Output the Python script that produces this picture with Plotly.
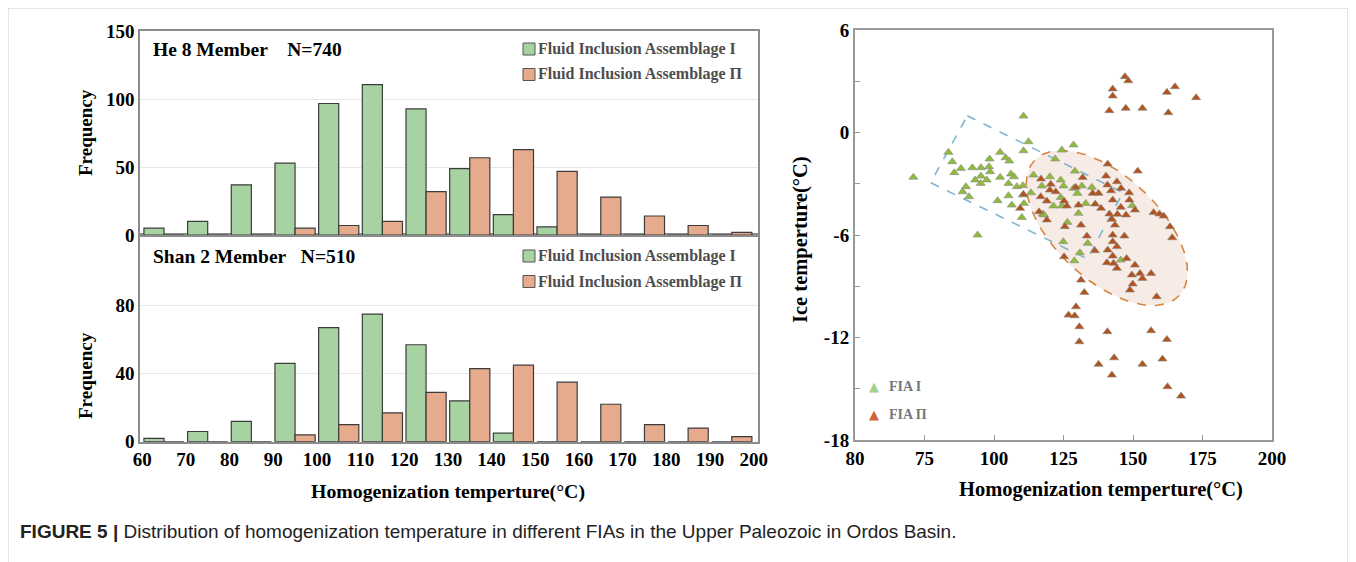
import numpy as np
import plotly.graph_objects as go

W, H = 1356, 562
OFF = 8  # page offset of the plot div

# ---------------- data ----------------
bin_centers = [65, 75, 85, 95, 105, 115, 125, 135, 145, 155, 165, 175, 185, 195]
hist_ticks = [60, 70, 80, 90, 100, 110, 120, 130, 140, 150, 160, 170, 180, 190, 200]

he8_fia1 = [5, 10, 37, 53, 97, 111, 93, 49, 15, 6, 0, 0, 0, 0]
he8_fia2 = [0, 0, 0, 5, 7, 10, 32, 57, 63, 47, 28, 14, 7, 2]
shan2_fia1 = [2, 6, 12, 46, 67, 75, 57, 24, 5, 0, 0, 0, 0, 0]
shan2_fia2 = [0, 0, 0, 4, 10, 17, 29, 43, 45, 35, 22, 10, 8, 3]

fia1_x = [71.0, 110.6, 83.6, 85.0, 88.1, 85.7, 92.2, 95.3, 98.4, 98.2, 98.6, 95.3, 93.2, 95.2,
          97.4, 89.9, 88.7, 91.0, 102.2, 104.2, 105.5, 102.2, 106.1, 107.2, 105.2, 108.2, 110.4,
          105.2, 101.3, 106.4, 110.8, 110.4, 113.3, 110.0, 112.4, 110.6, 114.2, 94.1, 117.2, 117.6,
          128.6, 124.4, 122.0, 129.1, 120.1, 124.0, 125.0, 128.6, 131.6, 130.0, 135.2, 124.0,
          121.4, 124.4, 133.0, 130.4, 118.0, 126.4, 149.7, 124.9, 133.7, 130.9, 128.9, 145.6]
fia1_y = [-2.62, 0.96, -1.16, -1.71, -2.10, -2.35, -2.06, -2.06, -1.55, -2.0, -2.3, -2.55, -2.78,
          -2.98, -2.78, -3.17, -3.47, -3.76, -1.16, -1.48, -1.67, -2.62, -2.43, -2.59, -2.98, -3.17,
          -3.11, -3.70, -3.99, -4.25, -4.15, -3.66, -3.53, -4.97, -0.54, -1.07, -2.49, -6.0, -3.13,
          -4.77, -0.73, -1.03, -1.55, -2.26, -2.59, -2.78, -3.13, -3.27, -3.13, -3.56, -3.21, -3.80,
          -4.30, -4.30, -4.15, -4.73, -4.83, -5.26, -4.28, -6.39, -6.49, -7.04, -7.51, -7.47]

fia2_x = [141.5, 147.4, 153.4, 162.7, 147.1, 148.3, 142.7, 142.7, 162.2, 165.1, 172.7,
          116.9, 110.6, 109.4, 116.8, 116.2,
          120.4, 120.1, 122.2, 129.4, 131.9, 119.0, 125.2, 126.2, 135.5, 137.6, 140.9, 140.3,
          140.8, 142.1, 144.2, 145.7, 151.7, 148.6, 142.7, 148.7, 150.7, 145.6, 136.4, 138.5,
          130.4, 141.5, 144.4, 147.5, 142.4, 143.5, 157.4, 159.5, 161.0, 163.3, 164.1, 119.0,
          125.5, 131.3, 133.4, 142.7, 146.9, 142.7, 144.2, 140.9, 136.3, 142.7, 147.7, 140.6,
          144.2, 150.7, 143.0, 149.6, 152.5, 156.5, 125.2,
          153.4, 149.9, 148.9, 158.5, 131.3, 132.5, 129.5, 126.8, 129.0, 130.7, 130.7, 140.8,
          156.5, 162.2, 143.2, 137.6, 153.4, 160.6, 142.4, 162.4, 167.3]
fia2_y = [1.28, 1.42, 1.42, 1.16, 3.27, 3.03, 2.55, 2.14, 2.35, 2.68, 2.04,
          -2.72, -3.62, -4.44, -3.76, -4.64,
          -3.03, -3.37, -3.47, -3.21, -2.64, -4.01, -4.01, -4.30, -3.56, -3.56, -1.85, -2.55,
          -3.07, -3.41, -2.88, -3.27, -2.26, -3.53, -3.95, -3.95, -4.54, -4.38, -4.19, -4.44,
          -4.25, -4.77, -4.79, -4.83, -5.08, -5.42, -4.69, -4.77, -4.89, -5.51, -6.16, -5.12,
          -5.51, -5.42, -6.06, -6.00, -6.06, -6.39, -6.68, -6.88, -6.92, -7.23, -7.37, -7.62,
          -7.95, -7.76, -7.66, -8.34, -8.25, -8.25, -7.27,
          -8.54, -8.87, -9.22, -9.61, -8.64, -9.36, -10.2, -10.69, -10.73, -11.37, -12.25, -11.66,
          -11.6, -12.11, -13.19, -13.57, -13.57, -13.26, -14.2, -14.88, -15.43]

scatter_xticks = [50, 75, 100, 125, 150, 175, 200]
scatter_xticktext = ["80", "75", "100", "125", "150", "175", "200"]
scatter_yticks = [-18, -15, -12, -9, -6, -3, 0, 3, 6]
scatter_yticktext = ["-18", "", "-12", "", "-6", "", "0", "", "6"]

# region outlines (annotation shapes, in data units)
box_x = [90.4, 146.4, 133.6, 77.2, 90.4]
box_y = [0.98, -3.52, -7.40, -2.94, 0.98]
ell_center = (140.6, -5.59)

# ---------------- helpers (page pixel -> paper fraction) ----------------
def px(x):
    return (x - OFF) / W

def py(y):
    return 1 - (y - OFF) / H

GREEN = "#a7d3a2"
SALMON = "#e6aa8c"
EDGE = "#3c3c3c"
SERIF = "Liberation Serif"
AXC = "#8c8c8c"

fig = go.Figure()

fig.add_trace(go.Bar(x=bin_centers, y=he8_fia1, marker=dict(color=GREEN, line=dict(color=EDGE, width=1.2)),
                     xaxis="x2", yaxis="y2", showlegend=False, name="Fluid Inclusion Assemblage I"))
fig.add_trace(go.Bar(x=bin_centers, y=he8_fia2, marker=dict(color=SALMON, line=dict(color=EDGE, width=1.2)),
                     xaxis="x2", yaxis="y2", showlegend=False, name="Fluid Inclusion Assemblage Π"))
fig.add_trace(go.Bar(x=bin_centers, y=shan2_fia1, marker=dict(color=GREEN, line=dict(color=EDGE, width=1.2)),
                     xaxis="x", yaxis="y", showlegend=False, name="Fluid Inclusion Assemblage I"))
fig.add_trace(go.Bar(x=bin_centers, y=shan2_fia2, marker=dict(color=SALMON, line=dict(color=EDGE, width=1.2)),
                     xaxis="x", yaxis="y", showlegend=False, name="Fluid Inclusion Assemblage Π"))

SX = (1272 - 855) / 150.0   # px per unit x
SY = (440 - 30) / 24.0      # px per unit y
t = np.linspace(0, 2 * np.pi, 200)
phi = np.deg2rad(43)
a_px, b_px = 99, 52
dx = a_px * np.cos(t) * np.cos(phi) - b_px * np.sin(t) * np.sin(phi)
dy = a_px * np.cos(t) * np.sin(phi) + b_px * np.sin(t) * np.cos(phi)
ex = ell_center[0] + dx / SX
ey = ell_center[1] - dy / SY
fig.add_trace(go.Scatter(x=ex, y=ey, mode="lines", fill="toself", fillcolor="rgba(240,224,212,0.6)",
                         line=dict(color="#d9843f", width=1.6, dash="dash"),
                         xaxis="x3", yaxis="y3", showlegend=False, hoverinfo="skip"))
fig.add_trace(go.Scatter(x=box_x, y=box_y, mode="lines",
                         line=dict(color="#7fb6cf", width=1.6, dash="dash"),
                         xaxis="x3", yaxis="y3", showlegend=False, hoverinfo="skip"))
fig.add_trace(go.Scatter(x=fia1_x, y=fia1_y, mode="markers", name="FIA I",
                         marker=dict(symbol="triangle-up", size=8, color="#8fbb3a",
                                     line=dict(color="#8a8a8a", width=0.6)),
                         xaxis="x3", yaxis="y3", showlegend=False))
fig.add_trace(go.Scatter(x=fia2_x, y=fia2_y, mode="markers", name="FIA Π",
                         marker=dict(symbol="triangle-up", size=8, color="#b4521c",
                                     line=dict(color="#8a8a8a", width=0.6)),
                         xaxis="x3", yaxis="y3", showlegend=False))

tickfont = dict(family=SERIF, size=19, color="black", weight="bold")

hist_xdom = [px(140), px(758)]
fig.update_layout(
    width=W, height=H,
    margin=dict(l=0, r=0, t=0, b=0, pad=0, autoexpand=False),
    paper_bgcolor="white", plot_bgcolor="white",
    barmode="group", bargap=0.08, bargroupgap=0.0,
    xaxis=dict(domain=hist_xdom, anchor="y", range=[59.5, 201], tickmode="array", tickvals=hist_ticks,
               ticktext=[str(v) for v in hist_ticks], tickfont=tickfont, showgrid=False, zeroline=False,
               showline=True, linecolor=AXC, linewidth=1.5, mirror=True, ticks="", automargin=False),
    yaxis=dict(domain=[py(441.7), py(235)], anchor="x", range=[0, 121.5], tickvals=[0, 40, 80],
               tickfont=tickfont, showgrid=True, gridcolor="#e8e8e8", zeroline=False,
               showline=True, linecolor=AXC, linewidth=1.5, mirror=True, ticks="", automargin=False),
    xaxis2=dict(domain=hist_xdom, anchor="y2", matches="x", showticklabels=False, showgrid=False,
                zeroline=False, showline=True, linecolor=AXC, linewidth=1.5, mirror=True, ticks="",
                automargin=False),
    yaxis2=dict(domain=[py(235), py(31)], anchor="x2", range=[0, 150.5], tickvals=[0, 50, 100, 150],
                tickfont=tickfont, showgrid=True, gridcolor="#e8e8e8", zeroline=False,
                showline=True, linecolor=AXC, linewidth=1.5, mirror=True, ticks="", automargin=False),
    xaxis3=dict(domain=[px(855), px(1272)], anchor="y3", range=[50, 200], tickmode="array",
                tickvals=scatter_xticks, ticktext=scatter_xticktext, tickfont=tickfont,
                showgrid=False, zeroline=False, showline=True, linecolor="#999999", linewidth=2,
                mirror=True, ticks="inside", ticklen=5, tickcolor="#999999", automargin=False),
    yaxis3=dict(domain=[py(440), py(30)], anchor="x3", range=[-18, 6], tickmode="array",
                tickvals=scatter_yticks, ticktext=scatter_yticktext, tickfont=tickfont,
                showgrid=False, zeroline=False, showline=True, linecolor="#999999", linewidth=2,
                mirror=True, ticks="inside", ticklen=5, tickcolor="#999999", automargin=False),
)

ann = []
def add_text(text, x, y, size, xanchor="center", yanchor="middle", angle=0, color="black",
             family=SERIF, weight="bold"):
    ann.append(dict(text=text, x=px(x), y=py(y), xref="paper", yref="paper", showarrow=False,
                    xanchor=xanchor, yanchor=yanchor, textangle=angle,
                    font=dict(family=family, size=size, color=color, weight=weight)))

add_text("He 8 Member\u00a0\u00a0\u00a0\u00a0N=740", 151, 50, 19.5, xanchor="left")
add_text("Shan 2 Member\u00a0\u00a0\u00a0N=510", 151, 256, 19.5, xanchor="left")
add_text("Frequency", 85, 133, 19, angle=-90)
add_text("Frequency", 85, 376, 19, angle=-90)
add_text("Homogenization temperture(°C)", 448, 491, 19.8)
add_text("Ice temperture(°C)", 800, 240, 20.5, angle=-90)
add_text("Homogenization temperture(°C)", 1101, 489, 20.5)

shapes = []
leg_items = [("Fluid Inclusion Assemblage I", GREEN), ("Fluid Inclusion Assemblage Π", SALMON)]
for y0 in (49, 256):
    for i, (lab, col) in enumerate(leg_items):
        yc = y0 + i * 25.5
        shapes.append(dict(type="rect", xref="paper", yref="paper", x0=px(523), x1=px(535),
                           y0=py(yc + 6), y1=py(yc - 6), fillcolor=col,
                           line=dict(color="#555555", width=1)))
        add_text(lab, 536, yc, 16, xanchor="left", color="#4d4d4d")

for i, (lab, col) in enumerate([("FIA I", "#a5cf8e"), ("FIA Π", "#cf6238")]):
    yc = 386.5 + i * 28
    add_text("▲", 874, yc, 13, color=col, family="DejaVu Sans", weight="normal")
    add_text(lab, 887, yc, 14, xanchor="left", color="#777777")

ann.append(dict(text="<b>FIGURE 5 |</b> Distribution of homogenization temperature in different FIAs in the Upper Paleozoic in Ordos Basin.",
                x=px(18), y=py(531), xref="paper", yref="paper", showarrow=False, xanchor="left",
                yanchor="middle", font=dict(family="Liberation Sans", size=19, color="#222222")))

shapes.append(dict(type="rect", xref="paper", yref="paper", x0=px(8), x1=px(1348), y0=py(575), y1=py(8),
                   line=dict(color="#cccccc", width=1), layer="below"))

fig.update_layout(annotations=ann, shapes=shapes)

fig.write_html("out.html")
